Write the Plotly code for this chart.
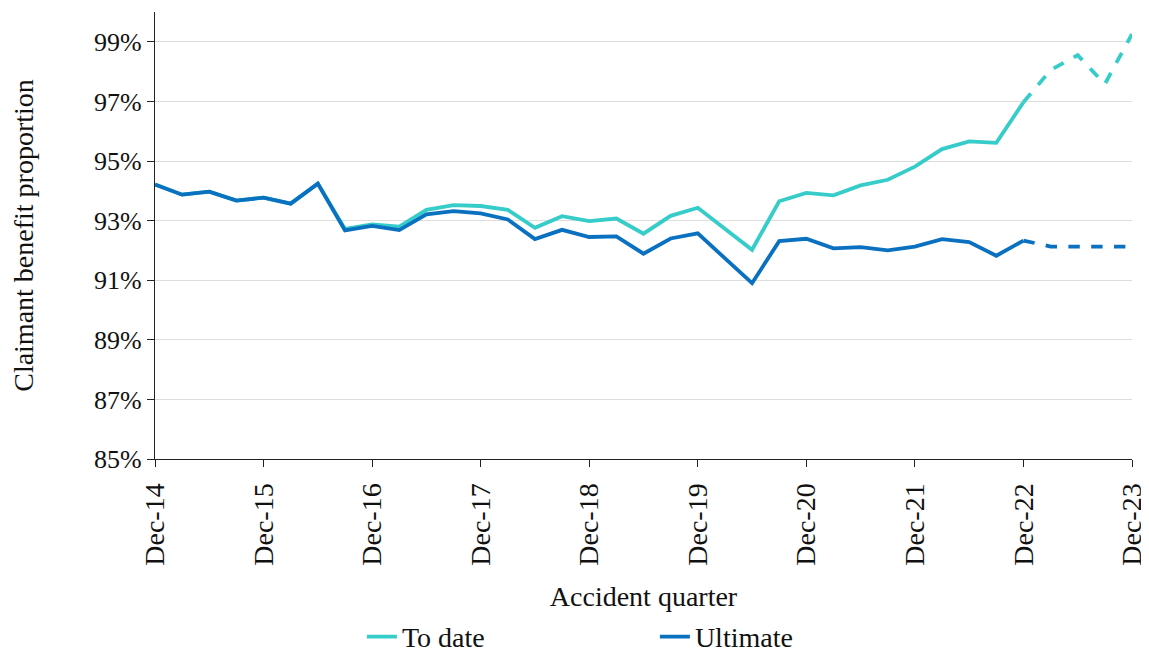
import plotly.graph_objects as go

# quarters Dec-14 .. Dec-23
months = ["Mar", "Jun", "Sep", "Dec"]
quarters = ["Dec-14"]
for yr in range(15, 24):
    for m in months:
        quarters.append(f"{m}-{yr}")

year_ticks = [f"Dec-{y}" for y in range(14, 24)]

to_date = [94.21, 93.87, 93.97, 93.67, 93.77, 93.57, 94.24, 92.72, 92.87, 92.80,
           93.36, 93.52, 93.49, 93.36, 92.76, 93.15, 92.98, 93.07, 92.56, 93.16,
           93.43, 92.73, 92.02, 93.65, 93.93, 93.85, 94.18, 94.37, 94.81, 95.40,
           95.66, 95.61, 96.97, 98.05, 98.55, 97.58, 99.26]

ultimate = [94.21, 93.87, 93.97, 93.67, 93.77, 93.57, 94.24, 92.67, 92.82, 92.68,
            93.21, 93.32, 93.24, 93.04, 92.38, 92.69, 92.45, 92.47, 91.89, 92.40,
            92.57, 91.73, 90.90, 92.31, 92.39, 92.07, 92.11, 92.00, 92.13, 92.38,
            92.28, 91.82, 92.33, 92.13, 92.13, 92.13, 92.13]

n_actual = 33  # up to Dec-22 solid, then dashed projection

teal = "#36CCC9"
blue = "#0A70C0"
font_family = "Liberation Serif"

fig = go.Figure()
fig.add_trace(go.Scatter(x=quarters[:n_actual], y=to_date[:n_actual], mode="lines",
                         line=dict(color=teal, width=3.8), name="To date"))
fig.add_trace(go.Scatter(x=quarters[n_actual - 1:], y=to_date[n_actual - 1:], mode="lines",
                         line=dict(color=teal, width=3.8, dash="dash"), showlegend=False))
fig.add_trace(go.Scatter(x=quarters[:n_actual], y=ultimate[:n_actual], mode="lines",
                         line=dict(color=blue, width=3.8), name="Ultimate"))
fig.add_trace(go.Scatter(x=quarters[n_actual - 1:], y=ultimate[n_actual - 1:], mode="lines",
                         line=dict(color=blue, width=3.8, dash="dash"), showlegend=False))

fig.update_layout(
    width=1149, height=653,
    margin=dict(l=147, r=25, t=4, b=202),
    paper_bgcolor="white", plot_bgcolor="white",
    font=dict(family=font_family, size=26, color="#111111"),
    showlegend=True,
    legend=dict(orientation="h", xref="container", yref="container",
                x=0.308, xanchor="left", y=0.037, yanchor="middle",
                entrywidth=248, entrywidthmode="pixels", font=dict(size=28),
                bgcolor="rgba(0,0,0,0)"),
)
fig.update_xaxes(
    type="category", categoryorder="array", categoryarray=quarters,
    range=[0, len(quarters) - 1], automargin=False,
    tickmode="array", tickvals=year_ticks, ticktext=year_ticks,
    tickangle=-90, ticks="outside", ticklen=7, tickcolor="#222", tickwidth=1.3,
    ticklabelstandoff=5,
    showline=True, linecolor="#222", linewidth=1.3, showgrid=False,
    title=dict(text="Accident quarter", standoff=36, font=dict(size=28)),
    tickfont=dict(size=28),
)
fig.update_yaxes(
    range=[85, 100], automargin=False,
    tickmode="array", tickvals=[85, 87, 89, 91, 93, 95, 97, 99],
    ticktext=["85%", "87%", "89%", "91%", "93%", "95%", "97%", "99%"],
    ticks="outside", ticklen=7, tickcolor="#222", tickwidth=1.3,
    showline=True, linecolor="#222", linewidth=1.3,
    showgrid=True, gridcolor="#DDDDDD", gridwidth=1.3, zeroline=False,
    title=dict(text="Claimant benefit proportion", standoff=58, font=dict(size=28)),
    tickfont=dict(size=26),
)

fig.write_html("out.html")
